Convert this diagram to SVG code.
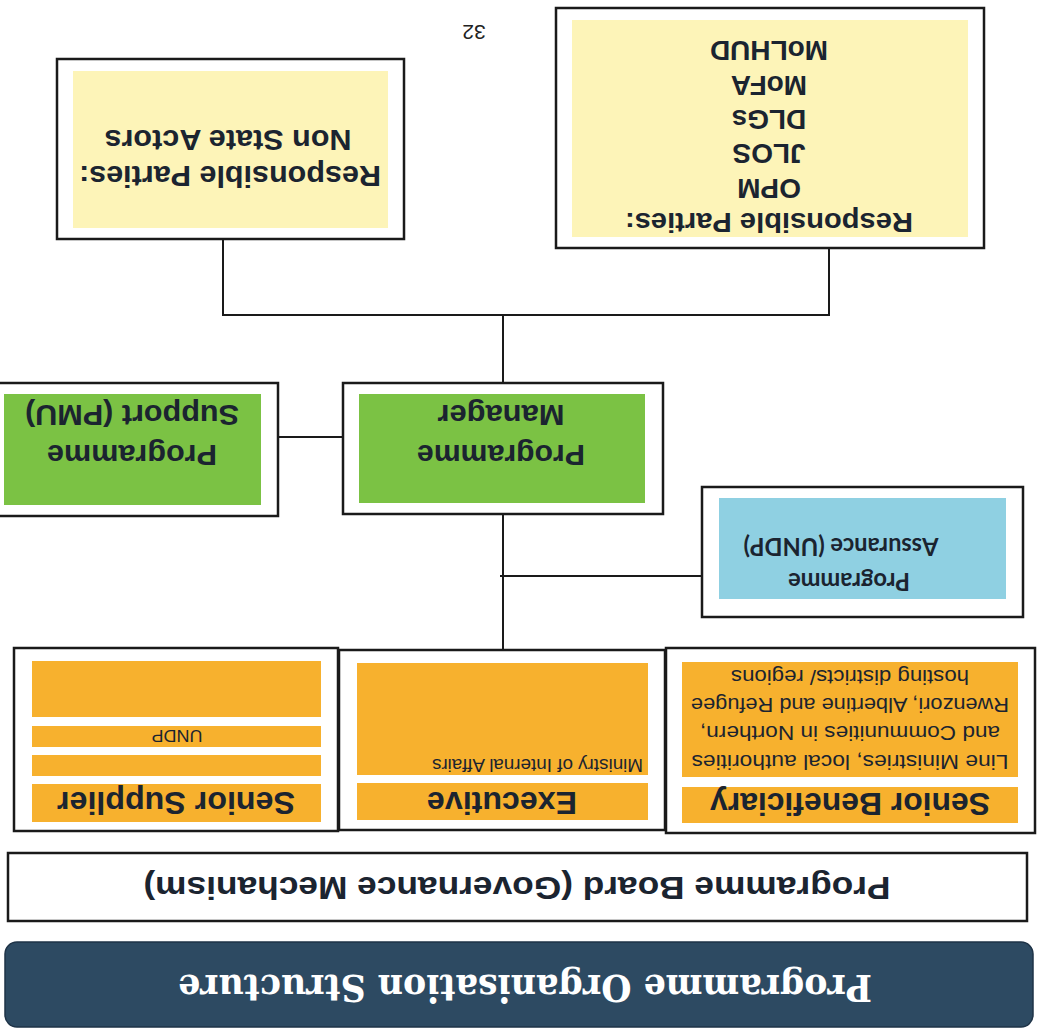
<svg xmlns="http://www.w3.org/2000/svg" width="1038" height="1031" viewBox="0 0 1038 1031">
<style>
.box{fill:#fff;stroke:#1a1a1a;stroke-width:2.5}
.org{fill:#F7B12E}
.grn{fill:#7BC244}
.blu{fill:#8FD0E2}
.yel{fill:#FDF4B8}
.hd{font-family:"Liberation Sans",Arial,sans-serif;font-weight:bold;fill:#1b2430;text-anchor:middle}
.tx{font-family:"Liberation Sans",Arial,sans-serif;fill:#1b2430;text-anchor:middle}
.cal{font-family:Lato,"Liberation Sans",sans-serif;font-weight:bold;fill:#1b2430;text-anchor:middle}
.ln{stroke:#1a1a1a;stroke-width:2;fill:none}
</style>
<rect width="1038" height="1031" fill="#fff"/>
<g transform="rotate(180 519 515.5)">
  <g id="title">
    <rect x="5" y="4" width="1028" height="85" rx="12" fill="#2D4A62" stroke="#1e3347" stroke-width="1.5"/>
    <text x="513" y="56" font-family="'DejaVu Serif','Liberation Serif',serif" font-weight="bold" font-size="38" fill="#fff" text-anchor="middle" textLength="694" lengthAdjust="spacingAndGlyphs">Programme Organisation Structure</text>
  </g>
  <g id="board">
    <rect class="box" x="11" y="110" width="1019" height="68"/>
    <text class="hd" x="521" y="154" font-size="31" fill="#111" textLength="747" lengthAdjust="spacingAndGlyphs">Programme Board (Governance Mechanism)</text>
  </g>
  <g id="senior-beneficiary">
    <rect class="box" x="3" y="198" width="369" height="185"/>
    <rect class="org" x="20" y="208" width="336" height="36"/>
    <text class="hd" x="188" y="238" font-size="32" textLength="280" lengthAdjust="spacingAndGlyphs">Senior Beneficiary</text>
    <rect class="org" x="20" y="254" width="336" height="115"/>
    <text class="tx" x="188" y="276" font-size="21" textLength="317" lengthAdjust="spacingAndGlyphs">Line Ministries, local authorities</text>
    <text class="tx" x="188" y="305" font-size="21" textLength="300" lengthAdjust="spacingAndGlyphs">and Communities in Northern,</text>
    <text class="tx" x="188" y="333" font-size="21" textLength="318" lengthAdjust="spacingAndGlyphs">Rwenzori, Albertine and Refugee</text>
    <text class="tx" x="188" y="361" font-size="21" textLength="238" lengthAdjust="spacingAndGlyphs">hosting districts/ regions</text>
  </g>
  <g id="executive">
    <rect class="box" x="373" y="201" width="326" height="180"/>
    <rect class="org" x="390" y="211" width="291" height="37"/>
    <text class="hd" x="536" y="239" font-size="32" textLength="150" lengthAdjust="spacingAndGlyphs">Executive</text>
    <rect class="org" x="390" y="256" width="291" height="112"/>
    <text class="tx" x="395" y="272" font-size="18" text-anchor="start" style="text-anchor:start" textLength="211" lengthAdjust="spacingAndGlyphs">Ministry of Internal Affairs</text>
  </g>
  <g id="senior-supplier">
    <rect class="box" x="700" y="200" width="324" height="183"/>
    <rect class="org" x="717" y="209" width="289" height="38"/>
    <text class="hd" x="862" y="239" font-size="32" textLength="238" lengthAdjust="spacingAndGlyphs">Senior Supplier</text>
    <rect class="org" x="717" y="255" width="289" height="21"/>
    <rect class="org" x="717" y="284" width="289" height="21"/>
    <text class="tx" x="861" y="301" font-size="17" textLength="51" lengthAdjust="spacingAndGlyphs">UNDP</text>
    <rect class="org" x="717" y="314" width="289" height="56"/>
  </g>
  <g id="programme-assurance">
    <rect class="box" x="15" y="414" width="321" height="130"/>
    <rect class="blu" x="32" y="432" width="287" height="101"/>
    <text class="cal" x="189" y="458" font-size="25" textLength="122" lengthAdjust="spacingAndGlyphs">Programme</text>
    <text class="cal" x="197" y="493" font-size="25" textLength="195" lengthAdjust="spacingAndGlyphs">Assurance (UNDP)</text>
  </g>
  <g id="programme-manager">
    <rect class="box" x="375" y="517" width="320" height="131"/>
    <rect class="grn" x="393" y="528" width="286" height="109"/>
    <text class="hd" x="537" y="586" font-size="30" textLength="168" lengthAdjust="spacingAndGlyphs">Programme</text>
    <text class="hd" x="537" y="626" font-size="30" textLength="127" lengthAdjust="spacingAndGlyphs">Manager</text>
  </g>
  <g id="programme-support">
    <rect class="box" x="760" y="515" width="280" height="133"/>
    <rect class="grn" x="777" y="526" width="257" height="111"/>
    <text class="hd" x="906" y="586" font-size="30" textLength="170" lengthAdjust="spacingAndGlyphs">Programme</text>
    <text class="hd" x="906" y="626" font-size="30" textLength="214" lengthAdjust="spacingAndGlyphs">Support (PMU)</text>
  </g>
  <g id="responsible-parties">
    <rect class="box" x="54" y="783" width="428" height="240"/>
    <rect class="yel" x="70" y="794" width="396" height="217"/>
    <text class="hd" x="269" y="818" font-size="28" fill="#111" textLength="288" lengthAdjust="spacingAndGlyphs">Responsible Parties:</text>
    <text class="hd" x="269" y="852" font-size="28" fill="#111">OPM</text>
    <text class="hd" x="269" y="887" font-size="28" fill="#111">JLOS</text>
    <text class="hd" x="269" y="921" font-size="28" fill="#111">DLGs</text>
    <text class="hd" x="269" y="955" font-size="28" fill="#111">MoFA</text>
    <text class="hd" x="269" y="990" font-size="28" fill="#111">MoLHUD</text>
  </g>
  <g id="non-state-actors">
    <rect class="box" x="634" y="792" width="347" height="180"/>
    <rect class="yel" x="650" y="803" width="315" height="157"/>
    <text class="hd" x="808" y="865" font-size="30" fill="#111" textLength="302" lengthAdjust="spacingAndGlyphs">Responsible Parties:</text>
    <text class="hd" x="810" y="901" font-size="30" fill="#111" textLength="247" lengthAdjust="spacingAndGlyphs">Non State Actors</text>
  </g>
  <g id="page-number">
    <text x="564" y="1006" font-family="'Liberation Sans',Arial,sans-serif" font-size="21" fill="#222" text-anchor="middle">32</text>
  </g>
  <g id="connectors" class="ln">
    <line x1="535" y1="381" x2="535" y2="517"/>
    <line x1="336" y1="455" x2="538" y2="455"/>
    <line x1="695" y1="594" x2="760" y2="594"/>
    <line x1="535" y1="648" x2="535" y2="716"/>
    <line x1="208" y1="716" x2="816" y2="716"/>
    <line x1="209" y1="716" x2="209" y2="783"/>
    <line x1="815" y1="716" x2="815" y2="792"/>
  </g>
</g>
</svg>
